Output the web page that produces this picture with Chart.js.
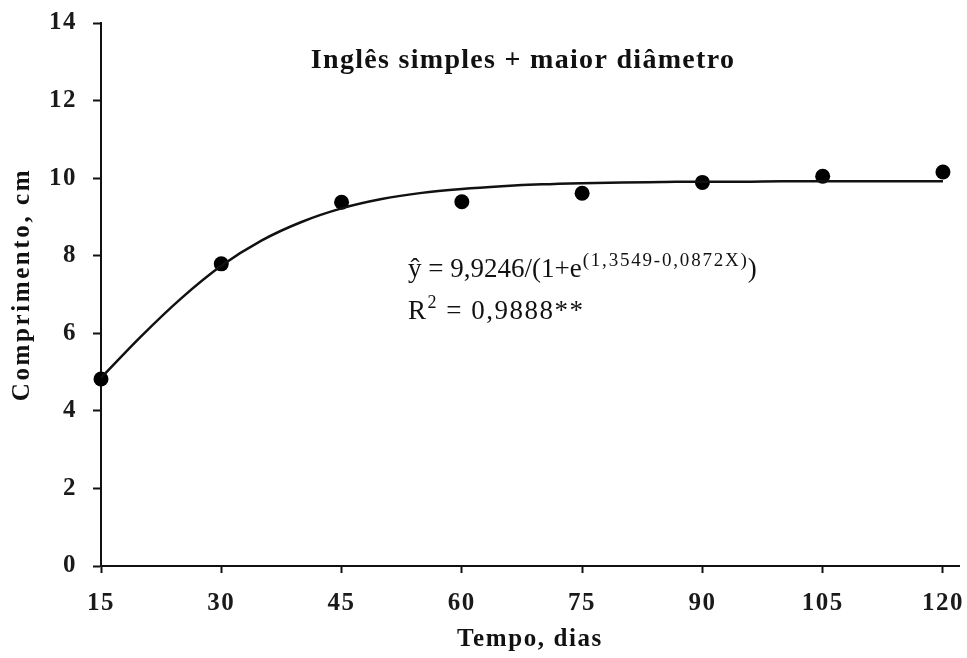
<!DOCTYPE html>
<html>
<head>
<meta charset="utf-8">
<script src="https://cdn.jsdelivr.net/npm/chart.js@4/dist/chart.umd.min.js"></script>
<style>
  html, body { margin: 0; padding: 0; background: #ffffff; }
  canvas { display: block; }
</style>
</head>
<body>
<canvas id="c" width="967" height="658"></canvas>
<script>
// Observed lengths (cm) by sampling day
const days = [15, 30, 45, 60, 75, 90, 105, 120];
const comprimento = [4.82, 7.79, 9.38, 9.39, 9.61, 9.89, 10.05, 10.16];

// Fitted logistic curve, sampled every 5 days
const curveDays = [15, 20, 25, 30, 35, 40, 45, 50, 55, 60, 65, 70, 75, 80, 85, 90, 95, 100, 105, 110, 115, 120];
const curveFit = [4.85, 5.92, 6.90, 7.74, 8.39, 8.87, 9.22, 9.46, 9.62, 9.72, 9.79, 9.84, 9.87, 9.89, 9.90, 9.91, 9.91, 9.92, 9.92, 9.92, 9.92, 9.92];

// Axis ranges and labels
const xTicks = [15, 30, 45, 60, 75, 90, 105, 120];
const yTicks = [0, 2, 4, 6, 8, 10, 12, 14];
const chartTitle = 'Inglês simples + maior diâmetro';
const xTitle = 'Tempo, dias';
const yTitle = 'Comprimento, cm';
const eqMain = 'ŷ = 9,9246/(1+e';
const eqExp = '(1,3549-0,0872X)';
const eqClose = ')';
const r2Label = 'R';
const r2Exp = '2';
const r2Value = ' = 0,9888**';

const SERIF = '"Liberation Serif", "Times New Roman", serif';
const INK = '#111111';

Chart.defaults.font.family = SERIF;

// Spaced-out glyphs for all tick labels
const spacing = {
  id: 'spacing',
  beforeDraw(chart) { chart.ctx.letterSpacing = '1.5px'; }
};

// Title, axis titles and the regression equation
const annotations = {
  id: 'annotations',
  afterDraw(chart) {
    const ctx = chart.ctx;
    const area = chart.chartArea;
    ctx.save();
    ctx.fillStyle = INK;
    ctx.textBaseline = 'alphabetic';

    // chart title
    ctx.font = 'bold 28px ' + SERIF;
    ctx.letterSpacing = '1.3px';
    ctx.textAlign = 'center';
    ctx.fillText(chartTitle, 523, 68);

    // x axis title
    ctx.font = 'bold 25px ' + SERIF;
    ctx.letterSpacing = '1.6px';
    ctx.textBaseline = 'middle';
    ctx.fillText(xTitle, (area.left + area.right) / 2, 640);

    // y axis title
    ctx.save();
    ctx.translate(23, (area.top + area.bottom) / 2 - 10);
    ctx.rotate(-Math.PI / 2);
    ctx.letterSpacing = '2.6px';
    ctx.fillText(yTitle, 0, 0);
    ctx.restore();

    // equation
    ctx.textAlign = 'left';
    ctx.textBaseline = 'alphabetic';
    let x = 408;
    ctx.font = '27px ' + SERIF;
    ctx.letterSpacing = '0px';
    ctx.fillText(eqMain, x, 277);
    x += ctx.measureText(eqMain).width + 1;
    ctx.font = '19px ' + SERIF;
    ctx.letterSpacing = '1.8px';
    ctx.fillText(eqExp, x, 266);
    x += ctx.measureText(eqExp).width - 1;
    ctx.font = '27px ' + SERIF;
    ctx.letterSpacing = '0px';
    ctx.fillText(eqClose, x, 277);

    // coefficient of determination
    x = 408;
    ctx.letterSpacing = '1.5px';
    ctx.fillText(r2Label, x, 319);
    x += ctx.measureText(r2Label).width;
    ctx.font = '18px ' + SERIF;
    ctx.fillText(r2Exp, x, 308);
    x += ctx.measureText(r2Exp).width;
    ctx.font = '27px ' + SERIF;
    ctx.fillText(r2Value, x, 319);

    ctx.restore();
  }
};

// Keep the plot area fixed: no extra room for overhanging tick labels
function fixPadding(s) {
  s.paddingLeft = 0;
  s.paddingRight = 0;
  s.paddingTop = 0;
  s.paddingBottom = 0;
}

const tickFont = { family: SERIF, size: 25, weight: 'bold' };

new Chart(document.getElementById('c'), {
  type: 'scatter',
  data: {
    datasets: [
      {
        type: 'line',
        data: curveDays.map((d, i) => ({ x: d, y: curveFit[i] })),
        borderColor: INK,
        borderWidth: 2.5,
        pointRadius: 0,
        cubicInterpolationMode: 'monotone',
        fill: false,
        clip: false
      },
      {
        data: days.map((d, i) => ({ x: d, y: comprimento[i] })),
        backgroundColor: '#000000',
        borderColor: '#000000',
        borderWidth: 0,
        pointRadius: 7.5,
        pointHoverRadius: 7.5,
        clip: false
      }
    ]
  },
  options: {
    responsive: false,
    animation: false,
    events: [],
    layout: { padding: { top: 23, right: 8, left: 0, bottom: 0 } },
    plugins: { legend: { display: false }, tooltip: { enabled: false } },
    scales: {
      x: {
        type: 'linear',
        position: 'bottom',
        min: 15,
        max: 122,
        afterFit: s => { s.height = 92; fixPadding(s); },
        afterBuildTicks: s => { s.ticks = xTicks.map(v => ({ value: v })); },
        border: { color: INK, width: 2 },
        grid: { drawOnChartArea: false, drawTicks: true, tickLength: 7, tickColor: INK, tickWidth: 2 },
        ticks: { font: tickFont, color: '#1a1a1a', padding: 16, maxRotation: 0, autoSkip: false }
      },
      y: {
        min: 0,
        max: 14,
        afterFit: s => { s.width = 101; fixPadding(s); },
        afterBuildTicks: s => { s.ticks = yTicks.map(v => ({ value: v })); },
        border: { color: INK, width: 2 },
        grid: { drawOnChartArea: false, drawTicks: true, tickLength: 8, tickColor: INK, tickWidth: 2 },
        ticks: { font: tickFont, color: '#1a1a1a', padding: 16 }
      }
    }
  },
  plugins: [spacing, annotations]
});
</script>
</body>
</html>
